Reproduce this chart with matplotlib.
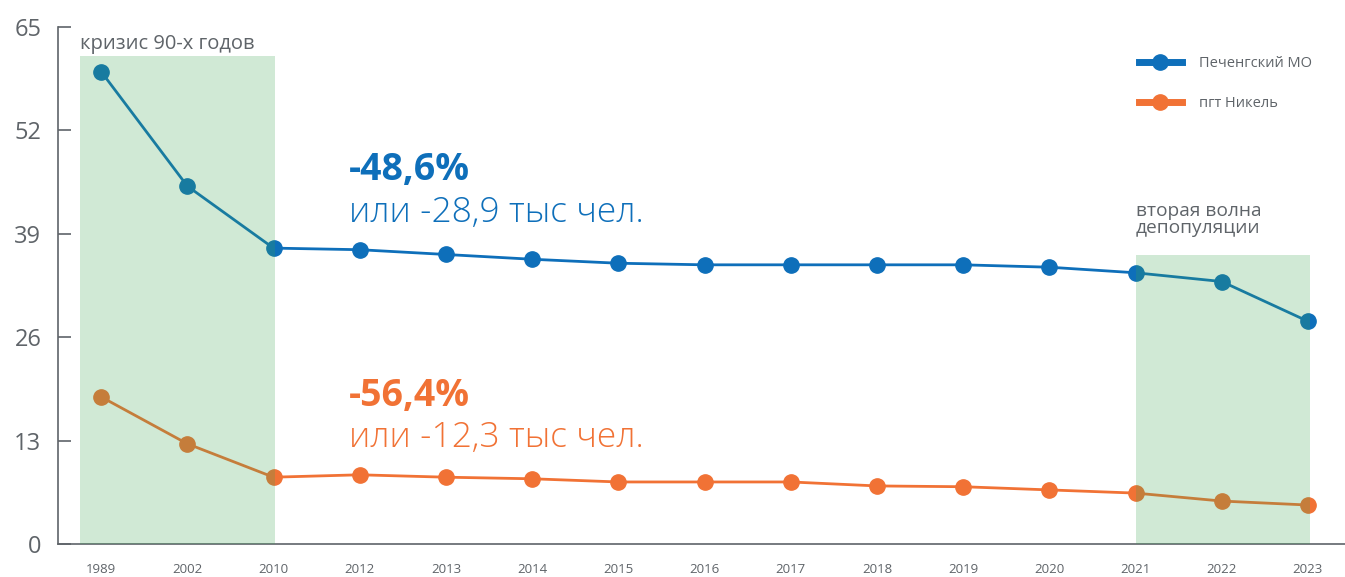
import matplotlib
matplotlib.use("Agg")
import matplotlib.pyplot as plt
from matplotlib.lines import Line2D

years = ["1989", "2002", "2010", "2012", "2013", "2014", "2015", "2016",
         "2017", "2018", "2019", "2020", "2021", "2022", "2023"]
pechenga = [59.4, 45.0, 37.2, 37.0, 36.4, 35.8, 35.3, 35.1, 35.1, 35.1, 35.1, 34.8, 34.1, 33.0, 28.0]
nikel = [18.5, 12.6, 8.4, 8.7, 8.4, 8.2, 7.8, 7.8, 7.8, 7.3, 7.2, 6.8, 6.4, 5.4, 4.9]
yticks = [0, 13, 26, 39, 52, 65]
series_names = ["Печенгский МО", "пгт Никель"]

BLUE = "#0e6fba"
ORANGE = "#f17235"
GRAY = "#5f6469"
GREEN = "#3ba350"

plt.rcParams['font.family'] = ['Open Sans', 'DejaVu Sans']

fig = plt.figure(figsize=(13.45, 5.77), dpi=100)
ax = fig.add_axes([58/1345, 33/577, 1 - 58/1345, (544-27)/577])

x = list(range(len(years)))
ax.plot(x, pechenga, color=BLUE, lw=2.0, marker='o', ms=11, zorder=3)
ax.plot(x, nikel, color=ORANGE, lw=2.0, marker='o', ms=11, zorder=3)

# shaded periods (overlay)
ax.fill_between([-0.24, 2.02], 0, 61.4, color=GREEN, alpha=0.24, lw=0, zorder=4)
ax.fill_between([12.0, 14.02], 0, 36.3, color=GREEN, alpha=0.24, lw=0, zorder=4)

ax.set_xlim(-0.5, 14.43)
ax.set_ylim(0, 65)
ax.set_xticks(x)
ax.set_xticklabels(years)
ax.set_yticks(yticks)
ax.tick_params(axis='x', length=0, pad=14, labelsize=9.5, labelcolor=GRAY)
ax.tick_params(axis='y', direction='in', length=9, width=1.2, color=GRAY,
               pad=12, labelsize=17, labelcolor=GRAY)
for s in ['top', 'right']:
    ax.spines[s].set_visible(False)
for s in ['left', 'bottom']:
    ax.spines[s].set_color(GRAY)
    ax.spines[s].set_linewidth(1.2)

# annotations
ax.text(-0.24, 62.9, "кризис 90-х годов", color=GRAY, fontsize=14.5, ha='left', va='center')
ax.text(12.0, 38.6, "вторая волна\nдепопуляции", color=GRAY, fontsize=13.8,
        ha='left', va='bottom', linespacing=0.95)
ax.text(2.87, 47.0, "-48,6%", color=BLUE, fontsize=27, fontweight='bold', ha='left', va='center')
ax.text(2.87, 41.7, "или -28,9 тыс чел.", color=BLUE, fontsize=25.5, fontweight='light',
        ha='left', va='center')
ax.text(2.87, 18.6, "-56,4%", color=ORANGE, fontsize=27, fontweight='bold', ha='left', va='center')
ax.text(2.87, 13.3, "или -12,3 тыс чел.", color=ORANGE, fontsize=25.5, fontweight='light',
        ha='left', va='center')

handles = [Line2D([0], [0], color=BLUE, lw=5, marker='o', ms=11),
           Line2D([0], [0], color=ORANGE, lw=5, marker='o', ms=11)]
ax.legend(handles, series_names, loc='upper left', bbox_to_anchor=(0.83, 0.97),
          frameon=False, fontsize=10.5, labelcolor=GRAY, handlelength=2.9,
          handletextpad=1.2, labelspacing=1.75)

fig.savefig("out.png", dpi=100)
